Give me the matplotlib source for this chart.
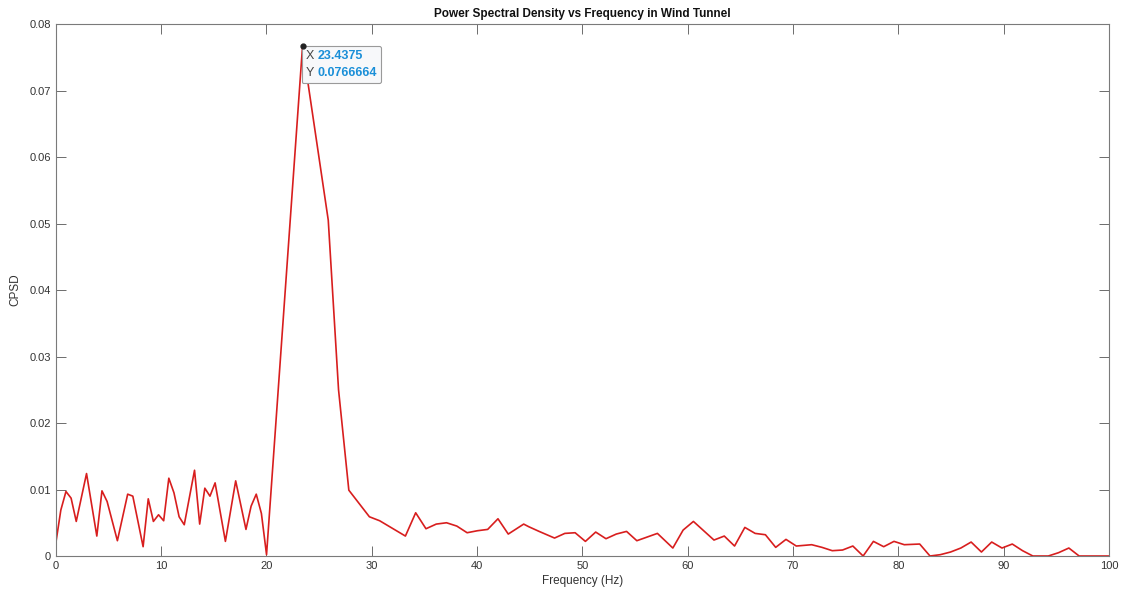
import matplotlib
matplotlib.use("Agg")
import matplotlib.pyplot as plt
import numpy as np
from matplotlib.offsetbox import TextArea, HPacker, VPacker, AnnotationBbox
from matplotlib.ticker import FuncFormatter, MultipleLocator

# frequency resolution of the spectrum (Hz per bin)
df = 0.48828125

# bins where the curve changes direction, and the PSD value there
bins = [0, 1, 2, 3, 4, 6, 8, 9, 10, 12, 14, 15, 17, 18, 19, 20, 21, 22, 23, 24,
        25, 27, 28, 29, 30, 31, 33, 35, 37, 38, 39, 40, 41, 48, 53, 55, 57,
        61, 63, 68, 70, 72, 74, 76, 78, 80, 82, 84, 86, 88, 91, 92, 94, 97, 99,
        101, 103, 105, 107, 109, 111, 113, 117, 120, 122, 124, 126, 128, 130,
        132, 134, 136, 138, 140, 142, 144, 147, 149, 151, 153, 155, 157, 159,
        161, 163, 165, 168, 170, 172, 174, 176, 178, 180, 182, 184, 186, 188,
        190, 193, 195, 197, 199, 205]
cpsd = [0.0018, 0.0069, 0.0097, 0.0087, 0.0052, 0.0124, 0.0030, 0.0098, 0.0082,
        0.0023, 0.0093, 0.0090, 0.0014, 0.0086, 0.0052, 0.0062, 0.0053, 0.0117,
        0.0095, 0.0059, 0.0047, 0.0129, 0.0048, 0.0102, 0.0090, 0.0110, 0.0022,
        0.0113, 0.0040, 0.0075, 0.0093, 0.0064, 0.0002, 0.0766664, 0.0505,
        0.0250, 0.0099,
        0.0059, 0.0053, 0.0030, 0.0065, 0.0041, 0.0048, 0.0050, 0.0045, 0.0035,
        0.0038, 0.0040, 0.0056, 0.0033, 0.0048, 0.0044, 0.0037, 0.0027, 0.0034,
        0.0035, 0.0022, 0.0036, 0.0026, 0.0033, 0.0037, 0.0023, 0.0034, 0.0012,
        0.0039, 0.0052, 0.0038, 0.0024, 0.0030, 0.0015, 0.0043, 0.0034, 0.0032,
        0.0013, 0.0025, 0.0015, 0.0017, 0.0013, 0.0008, 0.0009, 0.0015, 0.0000,
        0.0022, 0.0014, 0.0022, 0.0017, 0.0018, 0.0000, 0.0002, 0.0006, 0.0012,
        0.0021, 0.0006, 0.0021, 0.0012, 0.0018, 0.0008, 0.0000, 0.0000, 0.0005,
        0.0012, 0.0000, 0.0000]

freq = np.array(bins) * df
cpsd = np.array(cpsd)

plt.rcParams['font.family'] = ['Liberation Sans', 'DejaVu Sans']

fig = plt.figure(figsize=(11.27, 5.96), dpi=100)
ax = fig.add_axes([0.0494, 0.0671, 0.9346, 0.8926])

ax.plot(freq, cpsd, color='#d81e1e', lw=1.2)

# data tip on the peak
ip = int(np.argmax(cpsd))
ax.plot(freq[ip], cpsd[ip], 'o', color='#222222', ms=3.5, zorder=5)
lab = dict(color='#444444', fontsize=9)
val = dict(color='#1a8fd8', fontsize=9, fontweight='bold')
row_x = HPacker(children=[TextArea("X", textprops=lab),
                          TextArea(f"{freq[ip]:g}", textprops=val)], sep=3, pad=0)
row_y = HPacker(children=[TextArea("Y", textprops=lab),
                          TextArea(f"{cpsd[ip]:.6g}", textprops=val)], sep=3, pad=0)
tip = VPacker(children=[row_x, row_y], sep=4, pad=0)
ab = AnnotationBbox(tip, (freq[ip], cpsd[ip]), xybox=(2, -2.5),
                    boxcoords='offset points', box_alignment=(0, 1), pad=0.75,
                    bboxprops=dict(boxstyle='round,pad=0.25,rounding_size=0.1',
                                   fc='#f7f8fa', ec='#9a9a9a', lw=0.8))
ax.add_artist(ab)

ax.set_xlim(0, 100)
ax.set_ylim(0, 0.08)
ax.xaxis.set_major_locator(MultipleLocator(10))
ax.yaxis.set_major_locator(MultipleLocator(0.01))
ax.yaxis.set_major_formatter(FuncFormatter(lambda v, p: f"{v:g}"))
ax.tick_params(direction='in', length=7, width=0.6, colors='#555555',
               labelcolor='#333333', labelsize=8, top=True, right=True)
for s in ax.spines.values():
    s.set_color('#7a7a7a')
    s.set_linewidth(0.8)

ax.set_title('Power Spectral Density vs Frequency in Wind Tunnel',
             fontsize=8.5, fontweight='bold', color='#111111', pad=5)
ax.set_xlabel('Frequency (Hz)', fontsize=8.5, color='#333333', labelpad=3)
ax.set_ylabel('CPSD', fontsize=8.5, color='#333333', labelpad=6)

fig.savefig('out.png', dpi=100, facecolor='white')
